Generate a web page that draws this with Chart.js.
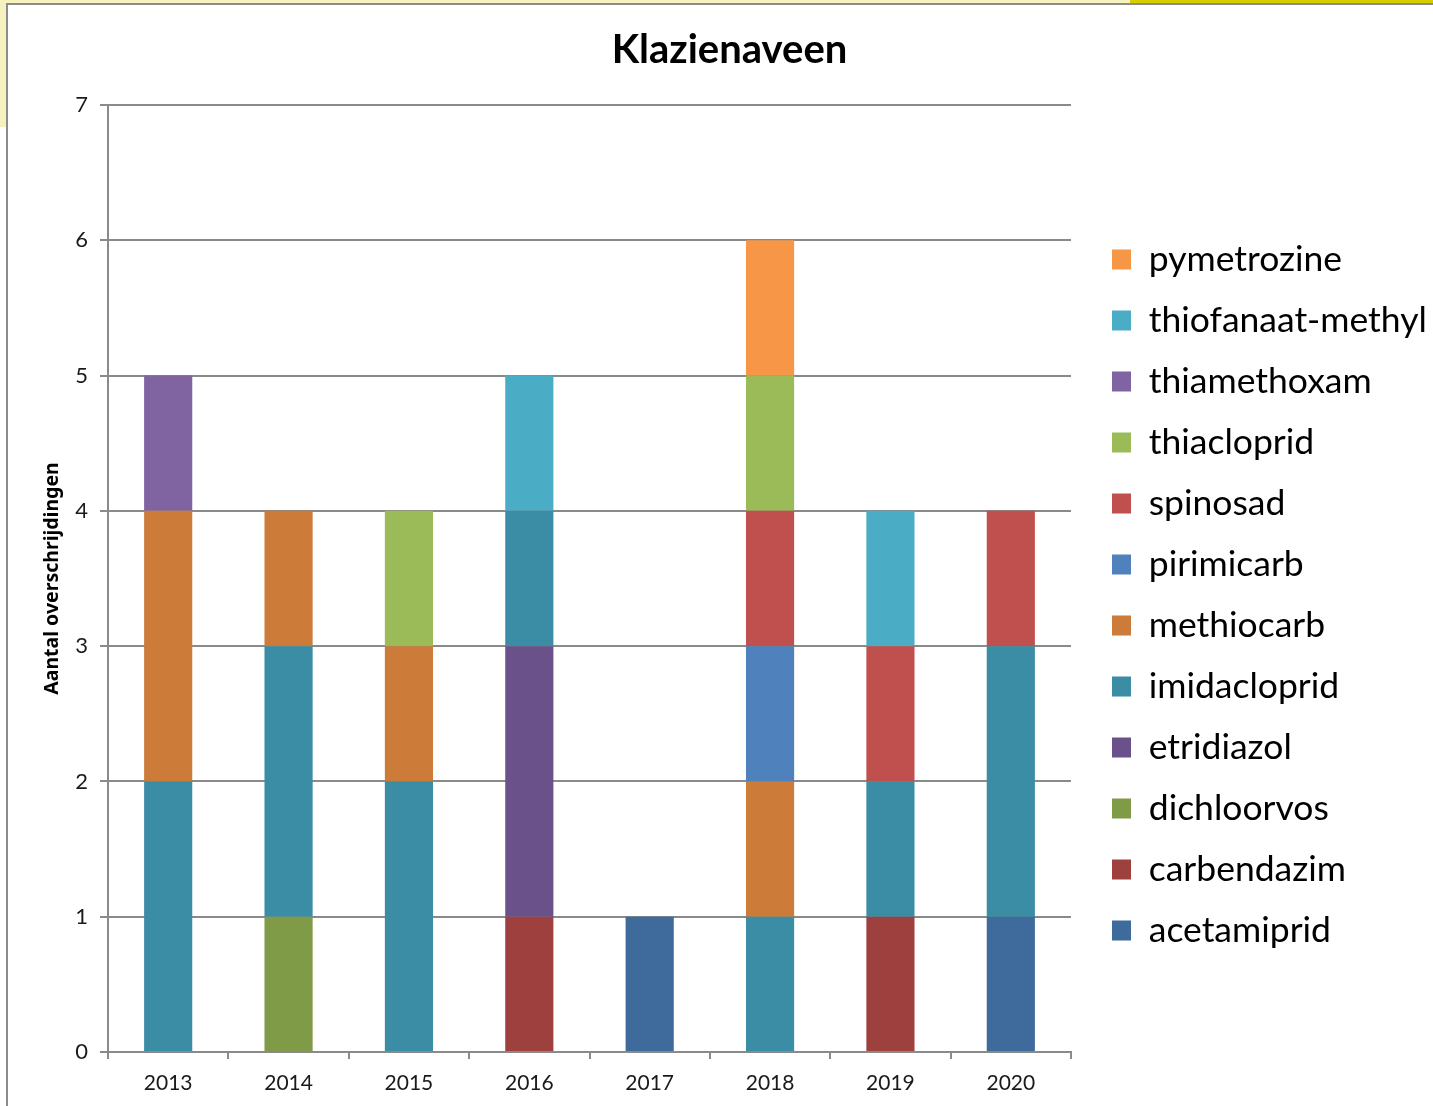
<!DOCTYPE html>
<html>
<head>
<meta charset="utf-8">
<title>Klazienaveen</title>
<script src="https://cdn.jsdelivr.net/npm/chart.js@4.4.1/dist/chart.umd.min.js"></script>
<style>
  body { margin: 0; background: #fff; overflow: hidden; }
  .band-light { position: absolute; left: 0; top: 0; width: 1130px; height: 4px; background: #f6f2c0; }
  .band-dark { position: absolute; left: 1130px; top: 0; width: 303px; height: 3px; background: #d6cf05; }
  .side { position: absolute; left: 0; top: 0; width: 6px; height: 127px; background: #f6f2c0; }
  .frame { position: absolute; left: 6px; top: 3px; width: 1427px; height: 1103px;
           border-left: 2px solid #8c8c8c; border-top: 2px solid #8c8c8c; background: #fff; }
  #chart-box { position: absolute; left: 8px; top: 6px; }
</style>
</head>
<body>
<div class="band-light"></div>
<div class="band-dark"></div>
<div class="side"></div>
<div class="frame"></div>
<div id="chart-box"><canvas id="overschrijdingen-chart" width="1425" height="1100"></canvas></div>
<script>
// Years on the x axis
let years = ['2013', '2014', '2015', '2016', '2017', '2018', '2019', '2020'];

// Number of exceedances per substance, per year (bottom of the stack first)
let acetamiprid      = [0, 0, 0, 0, 1, 0, 0, 1];
let carbendazim      = [0, 0, 0, 1, 0, 0, 1, 0];
let dichloorvos      = [0, 1, 0, 0, 0, 0, 0, 0];
let etridiazol       = [0, 0, 0, 2, 0, 0, 0, 0];
let imidacloprid     = [2, 2, 2, 1, 0, 1, 1, 2];
let methiocarb       = [2, 1, 1, 0, 0, 1, 0, 0];
let pirimicarb       = [0, 0, 0, 0, 0, 1, 0, 0];
let spinosad         = [0, 0, 0, 0, 0, 1, 1, 1];
let thiacloprid      = [0, 0, 1, 0, 0, 1, 0, 0];
let thiamethoxam     = [1, 0, 0, 0, 0, 0, 0, 0];
let thiofanaatMethyl = [0, 0, 0, 1, 0, 0, 1, 0];
let pymetrozine      = [0, 0, 0, 0, 0, 1, 0, 0];

let yTicks = [0, 1, 2, 3, 4, 5, 6, 7];

let series = [
  ['acetamiprid', acetamiprid, '#3f6a9c'],
  ['carbendazim', carbendazim, '#9e403e'],
  ['dichloorvos', dichloorvos, '#809b48'],
  ['etridiazol', etridiazol, '#6a5189'],
  ['imidacloprid', imidacloprid, '#3b8ca5'],
  ['methiocarb', methiocarb, '#cc7b38'],
  ['pirimicarb', pirimicarb, '#4f81bd'],
  ['spinosad', spinosad, '#c0504d'],
  ['thiacloprid', thiacloprid, '#9bbb59'],
  ['thiamethoxam', thiamethoxam, '#8064a2'],
  ['thiofanaat-methyl', thiofanaatMethyl, '#4bacc6'],
  ['pymetrozine', pymetrozine, '#f79646']
];

let gridGrey = '#8a8a8a';

// put legend and title where the Excel chart had them
let placeBoxes = {
  id: 'placeBoxes',
  afterLayout(chart) {
    let legend = chart.legend;
    legend.left = chart.chartArea.right + 15.5;
    legend.width = 345; // wide enough so the longest name is not clipped
    legend.right = legend.left + legend.width;
    legend.top = 78;
    legend.bottom = 1100;
    legend.height = legend.bottom - legend.top;
    let title = chart.titleBlock;
    title.left += 25;
    title.right += 25;
  }
};

let ctx = document.getElementById('overschrijdingen-chart').getContext('2d');

let chart = new Chart(ctx, {
  type: 'bar',
  data: {
    labels: years,
    datasets: series.map(s => ({
      label: s[0],
      data: s[1],
      backgroundColor: s[2],
      borderWidth: 0,
      barPercentage: 0.4,
      categoryPercentage: 1.0
    }))
  },
  options: {
    responsive: false,
    animation: false,
    layout: { padding: { left: 0, right: 32, top: 0, bottom: 0 } },
    plugins: {
      title: {
        display: true,
        text: 'Klazienaveen',
        color: '#000',
        font: { family: 'Lato', size: 40, weight: 'bold' },
        padding: { top: 20, bottom: 31 }
      },
      legend: {
        position: 'right',
        reverse: true,
        maxWidth: 330,
        labels: {
          boxWidth: 19,
          boxHeight: 20,
          padding: 25.5,
          color: '#000',
          font: { family: 'Lato', size: 35.5 }
        }
      },
      tooltip: { enabled: false }
    },
    scales: {
      x: {
        stacked: true,
        grid: {
          display: true,
          drawOnChartArea: false,
          offset: true,
          tickLength: 7,
          color: gridGrey,
          lineWidth: 2
        },
        border: { color: gridGrey, width: 2 },
        ticks: {
          color: '#1a1a1a',
          padding: 12,
          font: { family: 'Lato', size: 21 }
        },
        afterFit(scale) { scale.height = 54; }
      },
      y: {
        stacked: true,
        min: yTicks[0],
        max: yTicks[yTicks.length - 1],
        afterBuildTicks(scale) { scale.ticks = yTicks.map(v => ({ value: v })); },
        grid: {
          color: gridGrey,
          lineWidth: 2,
          tickLength: 8
        },
        border: { color: gridGrey, width: 2 },
        ticks: {
          color: '#1a1a1a',
          padding: 12,
          font: { family: 'Lato', size: 22 }
        },
        title: {
          display: true,
          text: 'Aantal overschrijdingen',
          color: '#000',
          font: { family: 'Noto Sans', size: 19.5, weight: 'bold' },
          padding: { top: 33, bottom: 0 }
        },
        afterFit(scale) { scale.width = 100; }
      }
    }
  },
  plugins: [placeBoxes]
});
</script>
</body>
</html>
